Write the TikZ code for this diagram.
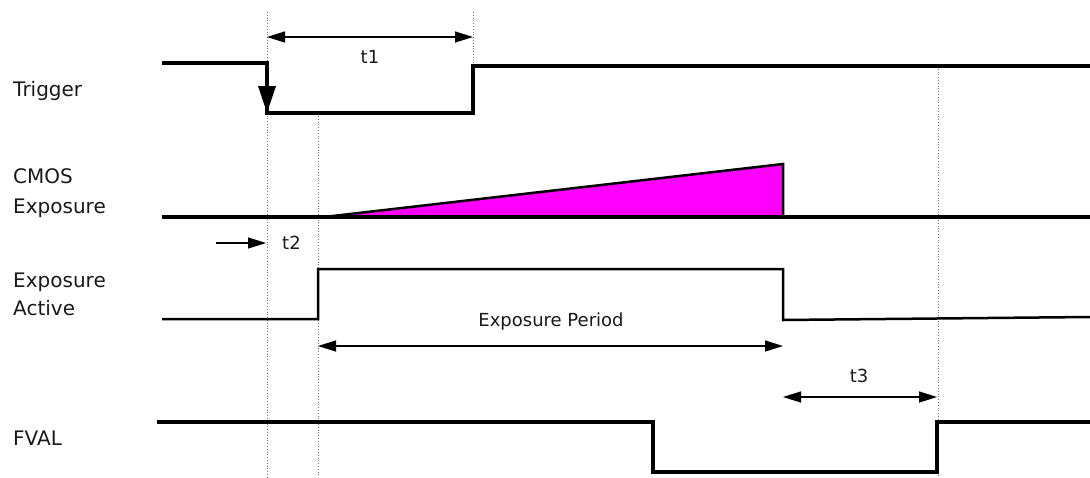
\documentclass[tikz,border=0pt]{standalone}
\usepackage{fontspec}
\setmainfont{DejaVu Sans}
\usetikzlibrary{arrows.meta}
\definecolor{puremagenta}{RGB}{255,0,255}
\begin{document}
\begin{tikzpicture}[x=1pt,y=-1pt,
  lbl/.style={anchor=base west,inner sep=0pt,font=\fontsize{20}{24}\selectfont,text=black!90},
  tlbl/.style={anchor=base,inner sep=0pt,font=\fontsize{18}{22}\selectfont,text=black!90},
  sig/.style={line width=3.5pt,line join=miter},
  sigthin/.style={line width=2.5pt,line join=miter},
  guide/.style={black!55,dotted,line width=0.8pt},
  dimline/.style={line width=1.3pt,{Triangle[length=18pt,width=11pt]}-{Triangle[length=18pt,width=11pt]}},
  oneway/.style={line width=1.3pt,-{Triangle[length=18pt,width=11pt]}},
]
\useasboundingbox (0,0) rectangle (1090,477);

% labels
\node[lbl] (ltrig) at (13,96) {Trigger};
\node[lbl] (lcmos) at (13,183) {CMOS};
\node[lbl] (lcexp) at (13,213) {Exposure};
\node[lbl] (laexp) at (13,287) {Exposure};
\node[lbl] (lact)  at (13,315) {Active};
\node[lbl] (lfval) at (13,445) {FVAL};

% guides
\coordinate (g1t) at (267,12);  \coordinate (g1b) at (267,477);
\coordinate (g2t) at (473,12);  \coordinate (g2b) at (473,66);
\coordinate (g3t) at (318,116); \coordinate (g3b) at (318,477);
\coordinate (g4t) at (938,66);  \coordinate (g4b) at (938,477);
\draw[guide] (g1t) -- (g1b);
\draw[guide] (g2t) -- (g2b);
\draw[guide] (g3t) -- (g3b);
\draw[guide] (g4t) -- (g4b);

% trigger
\coordinate (tA) at (162,63);
\coordinate (tB) at (267,63);
\coordinate (tC) at (267,113);
\coordinate (tD) at (473,113);
\coordinate (tE) at (473,66);
\coordinate (tF) at (1090,66);
\draw[sig] (tA) -- (tB) -- (tC) -- (tD) -- (tE) -- (tF);
\draw[line width=3.5pt,-{Triangle[length=27pt,width=17pt]}] (tB) -- (tC);

% CMOS exposure
\coordinate (cA) at (162,217);
\coordinate (cS) at (324,217);
\coordinate (cP) at (783,164);
\coordinate (cQ) at (783,217);
\coordinate (cB) at (1090,217);
\filldraw[fill=puremagenta,line width=2.5pt,line join=miter] (cS) -- (cP) -- (cQ) -- cycle;
\draw[sig] (cA) -- (cB);

% Exposure Active
\coordinate (aA) at (162,319);
\coordinate (aB) at (318,319);
\coordinate (aC) at (318,269);
\coordinate (aD) at (783,269);
\coordinate (aE) at (783,320);
\coordinate (aF) at (1090,317);
\draw[sigthin] (aA) -- (aB) -- (aC) -- (aD) -- (aE) -- (aF);

% FVAL
\coordinate (fA) at (157,422);
\coordinate (fB) at (653,422);
\coordinate (fC) at (653,472);
\coordinate (fD) at (937,472);
\coordinate (fE) at (937,422);
\coordinate (fF) at (1090,422);
\draw[sig] (fA) -- (fB) -- (fC) -- (fD) -- (fE) -- (fF);

% dimensions
\coordinate (d1a) at (267,37); \coordinate (d1b) at (473,37);
\draw[dimline] (d1a) -- (d1b);
\node[tlbl] (t1) at (370,63) {t1};

\coordinate (d2a) at (216,243); \coordinate (d2b) at (266,243);
\draw[oneway] (d2a) -- (d2b);
\node[tlbl,anchor=base west] (t2) at (282,249) {t2};

\coordinate (dpa) at (318,346); \coordinate (dpb) at (783,346);
\draw[dimline] (dpa) -- (dpb);
\node[tlbl] (ep) at (551,326) {Exposure Period};

\coordinate (d3a) at (783,397); \coordinate (d3b) at (937,397);
\draw[dimline] (d3a) -- (d3b);
\node[tlbl] (t3) at (859,382) {t3};
\end{tikzpicture}
\end{document}
